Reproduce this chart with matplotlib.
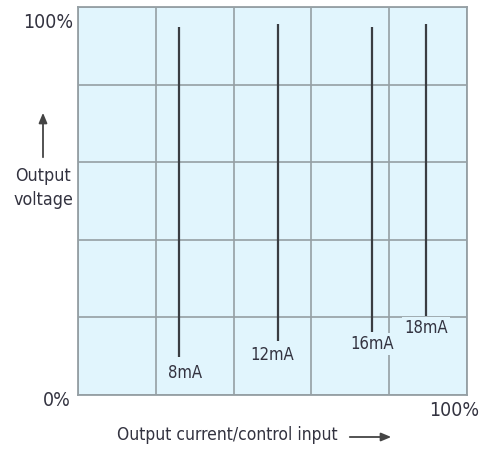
import matplotlib.pyplot as plt

# --- donnees (en % des axes) ---
labels = ["8mA", "12mA", "16mA", "18mA"]
x_pos = [26.0, 51.4, 75.6, 89.5]
y_top = [94.8, 95.6, 94.8, 95.6]
y_bottom = [9.8, 13.9, 16.2, 20.4]
label_y = [5.8, 10.2, 13.1, 17.3]
label_dx = [1.5, -1.5, 0.0, 0.0]
grid_ticks = [0, 20, 40, 60, 80, 100]

FONT = "DejaVu Sans"
STRETCH = "condensed"
TXT = "#333340"
BG = "#e1f5fd"
GRID = "#959fa4"

fig = plt.figure(figsize=(4.83, 4.5), dpi=100)
ax = fig.add_axes([0.1615, 0.1222, 0.8054, 0.8622])
ax.set_facecolor(BG)
ax.set_xlim(0, 100)
ax.set_ylim(0, 100)
ax.set_xticks(grid_ticks)
ax.set_yticks(grid_ticks)
ax.tick_params(length=0, labelbottom=False, labelleft=False)
ax.grid(True, color=GRID, lw=1.2)
for s in ax.spines.values():
    s.set_color(GRID)
    s.set_linewidth(1.3)

for x, y0, y1, lab, ly, dx in zip(x_pos, y_bottom, y_top, labels, label_y, label_dx):
    ax.plot([x, x], [y0, y1], color="#3a3d42", lw=1.6, solid_capstyle="butt")
    ax.text(x + dx, ly, lab, ha="center", va="center", fontsize=12,
            family=FONT, stretch=STRETCH, color=TXT,
            bbox=dict(facecolor=BG, edgecolor="none", pad=1.5))

# textes autour du cadre
fig.text(73 / 483, 1 - 22 / 450, "100%", ha="right", va="center",
         fontsize=14, family=FONT, stretch=STRETCH, color=TXT)
fig.text(71 / 483, 1 - 400 / 450, "0%", ha="right", va="center",
         fontsize=14, family=FONT, stretch=STRETCH, color=TXT)
fig.text(454 / 483, 1 - 410 / 450, "100%", ha="center", va="center",
         fontsize=14, family=FONT, stretch=STRETCH, color=TXT)
fig.text(43 / 483, 1 - 188 / 450, "Output\nvoltage", ha="center", va="center",
         fontsize=12.8, family=FONT, stretch=STRETCH, color=TXT, linespacing=1.45)
fig.text(227 / 483, 1 - 435 / 450, "Output current/control input", ha="center",
         va="center", fontsize=12.5, family=FONT, stretch=STRETCH, color=TXT)

fig.patches.append(plt.matplotlib.patches.FancyArrowPatch(
    (43 / 483, 1 - 160 / 450), (43 / 483, 1 - 110 / 450),
    transform=fig.transFigure, arrowstyle="-|>,head_width=0.25,head_length=0.6",
    mutation_scale=10, color="#444444", lw=1.3))
fig.patches.append(plt.matplotlib.patches.FancyArrowPatch(
    (347 / 483, 1 - 437 / 450), (394 / 483, 1 - 437 / 450),
    transform=fig.transFigure, arrowstyle="-|>,head_width=0.25,head_length=0.6",
    mutation_scale=10, color="#444444", lw=1.3))

fig.savefig("out.png", dpi=100, facecolor="white")
